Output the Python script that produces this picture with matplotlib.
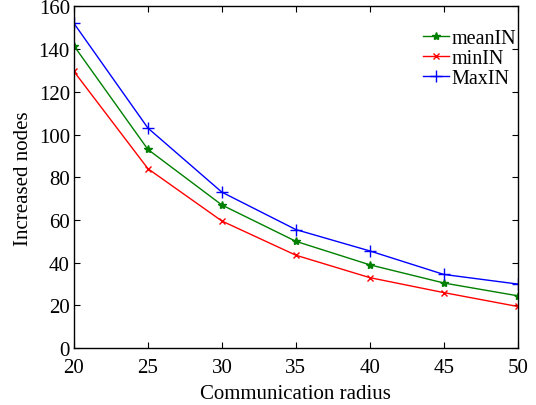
import matplotlib
matplotlib.use("Agg")
import matplotlib.pyplot as plt

radius = [20, 25, 30, 35, 40, 45, 50]
mean_in = [141.5, 93, 67, 50, 39, 30.5, 24.5]
min_in = [129.5, 84, 59.5, 43.5, 33, 26, 19.5]
max_in = [152, 103, 73, 55.5, 45.5, 34.5, 30]

plt.rcParams['font.family'] = ['Liberation Serif', 'DejaVu Serif']
plt.rcParams['font.size'] = 15

fig = plt.figure(figsize=(5.36, 4.06), dpi=100)
ax = fig.add_axes([0.138, 0.140, 0.828, 0.842])

ax.plot(radius, mean_in, color=(0, 0.5, 0), marker='*', ms=6, lw=1, label='meanIN')
ax.plot(radius, min_in, color='red', marker='x', ms=4, lw=1, label='minIN')
ax.plot(radius, max_in, color='blue', marker='+', ms=8, lw=1, label='MaxIN')

ax.set_xlim(20, 50)
ax.set_ylim(0, 160)
ax.set_xticks(radius)
ax.set_yticks(range(0, 161, 20))
ax.tick_params(direction='in', top=True, right=True, length=4, width=0.8)
ax.tick_params(axis='x', pad=7)
ax.tick_params(axis='y', pad=3)
for s in ax.spines.values():
    s.set_linewidth(1.0)

ax.set_xlabel('Communication radius', labelpad=5)
ax.set_ylabel('Increased nodes', labelpad=4)

ax.legend(loc='upper right', frameon=False, fontsize=14.5, handlelength=1.3,
          handletextpad=0.1, labelspacing=0.05, borderpad=0.1, borderaxespad=0,
          bbox_to_anchor=(1.0, 0.94))

fig.savefig("out.png", dpi=100)
